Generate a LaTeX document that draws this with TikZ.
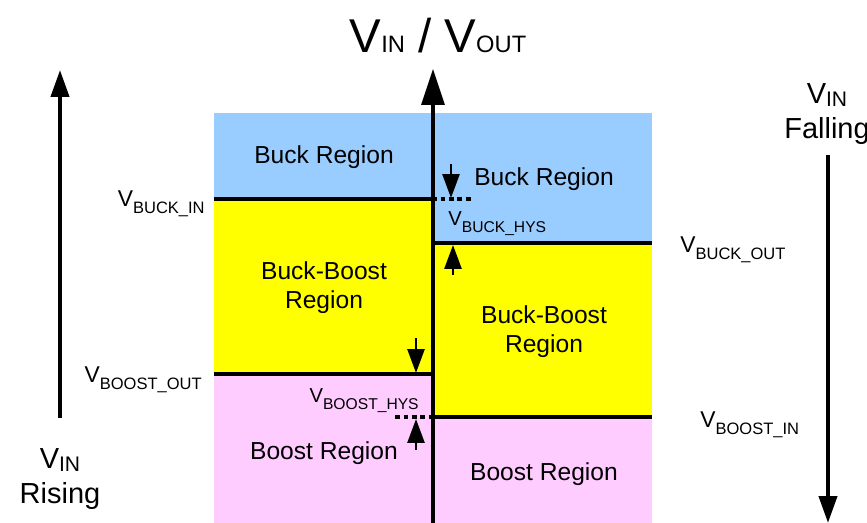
\documentclass[tikz,border=0pt]{standalone}
\usepackage{fontspec}
\setmainfont{Liberation Sans}
\usepackage{tikz}
\usetikzlibrary{arrows.meta,positioning}
\definecolor{cbuck}{HTML}{99CCFF}
\definecolor{cbb}{HTML}{FFFF00}
\definecolor{cboost}{HTML}{FFCCFF}
% V with a lowered, smaller subscript
\newcommand{\vsub}[3][-0.3em]{V\raisebox{#1}{\fontsize{#2}{#2}\selectfont #3}}
\tikzset{
  reg/.style={font=\fontsize{14}{16.5}\selectfont,align=center},
  lim/.style={font=\fontsize{13}{15}\selectfont,inner sep=0pt},
  hys/.style={font=\fontsize{11.5}{14}\selectfont,inner sep=0pt},
  >=Stealth
}

\begin{document}
\begin{tikzpicture}[x=0.02cm,y=-0.02cm,
      bar/.style={line width=0.065cm},
      dots/.style={line width=0.08cm,dash pattern=on 0.1cm off 0.07cm},
      hysarr/.style={line width=0.055cm,-{Triangle[length=0.48cm,width=0.34cm]}},
      big/.style={line width=0.08cm,-{Triangle[length=0.54cm,width=0.36cm]}},
      axis/.style={line width=0.066cm,-{Triangle[length=0.72cm,width=0.46cm]}}]
    \useasboundingbox (0,0) rectangle (867,523);
    % regions, rising (left) and falling (right)
    \fill[cbuck] (214,113) rectangle (432,199);
    \fill[cbb] (214,199) rectangle (432,374);
    \fill[cboost] (214,374) rectangle (432,523);
    \fill[cbuck] (432,113) rectangle (652,243);
    \fill[cbb] (432,243) rectangle (652,417);
    \fill[cboost] (432,417) rectangle (652,523);
    % thresholds
    \coordinate (bi0) at (214,199); \coordinate (bi1) at (432,199);
    \coordinate (bo0) at (214,374); \coordinate (bo1) at (432,374);
    \coordinate (ci0) at (432,243); \coordinate (ci1) at (652,243);
    \coordinate (co0) at (432,417); \coordinate (co1) at (652,417);
    \draw[bar] (bi0)--(bi1);
    \draw[bar] (bo0)--(bo1);
    \draw[bar] (ci0)--(ci1);
    \draw[bar] (co0)--(co1);
    \coordinate (d1) at (473,199); \coordinate (d2) at (395,417);
    \draw[dots] (bi1)--(d1);
    \draw[dots] (d2)--(co0);
    % axis
    \coordinate (ax0) at (433,523); \coordinate (ax1) at (433,69);
    \draw[axis] (ax0)--(ax1);
    % hysteresis arrows
    \coordinate (ha0) at (451,164); \coordinate (ha1) at (451,198);
    \coordinate (hb0) at (453,275); \coordinate (hb1) at (453,245);
    \coordinate (hc0) at (416,338); \coordinate (hc1) at (416,373);
    \coordinate (hd0) at (416,450); \coordinate (hd1) at (416,419);
    \draw[hysarr] (ha0)--(ha1);
    \draw[hysarr] (hb0)--(hb1);
    \draw[hysarr] (hc0)--(hc1);
    \draw[hysarr] (hd0)--(hd1);
    % rising / falling arrows
    \coordinate (r0) at (60,418); \coordinate (r1) at (60,70);
    \coordinate (f0) at (828,155); \coordinate (f1) at (828,523);
    \draw[big] (r0)--(r1);
    \draw[big] (f0)--(f1);
    % labels
    \node[reg] (buckl) at (324,157) {Buck Region};
    \node[reg] (buckr) at (544,179) {Buck Region};
    \node[reg] (bbl) at (324,288) {Buck-Boost\\Region};
    \node[reg] (bbr) at (544,332) {Buck-Boost\\Region};
    \node[reg] (boostl) at (324,453) {Boost Region};
    \node[reg] (boostr) at (544,474) {Boost Region};
    \node[lim,anchor=base east] (vbuckin) at (205,207) {\vsub{9.4}{BUCK\_IN}};
    \node[lim,anchor=base east] (vboostout) at (202,383) {\vsub{9.4}{BOOST\_OUT}};
    \node[lim,anchor=base west] (vbuckout) at (680,253) {\vsub{9.4}{BUCK\_OUT}};
    \node[lim,anchor=base west] (vboostin) at (700,428) {\vsub{9.4}{BOOST\_IN}};
    \node[hys,anchor=base west] (vbuckhys) at (448,226) {\vsub{8.9}{BUCK\_HYS}};
    \node[hys,anchor=base east] (vboosthys) at (419,403) {\vsub{8.9}{BOOST\_HYS}};
    \node[font=\fontsize{27}{32}\selectfont,anchor=base,inner sep=0pt] (title) at (438,53) {\vsub[0pt]{13.5}{IN} / \vsub[0pt]{13.5}{OUT}};
    \node[font=\fontsize{16.5}{20}\selectfont,align=center] (rise) at (60,479) {\vsub[-0.1em]{12}{IN}\\Rising};
    \node[font=\fontsize{16.5}{20}\selectfont,align=center] (fall) at (827,114) {\vsub[-0.1em]{12}{IN}\\Falling};
  \end{tikzpicture}
\end{document}
